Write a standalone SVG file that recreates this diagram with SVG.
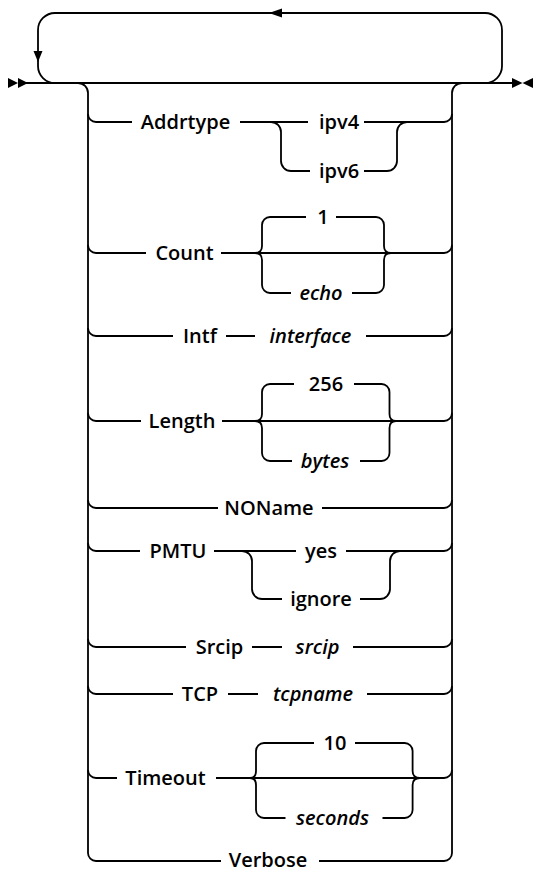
<svg xmlns="http://www.w3.org/2000/svg" width="533" height="871" viewBox="0 0 533 871">
<style>
  .c { fill: none; stroke: #000; stroke-width: 1.8; }
  .m { fill: #000; stroke: none; }
  text { font-family: "Open Sans", "Noto Sans", "Liberation Sans", sans-serif; font-size: 20px; fill: #000; text-anchor: middle; font-weight: 600; }
  .v { font-style: italic; }
</style>
<rect width="533" height="871" fill="#fff"/>
<g id="connectors">
  <path class="c" d="M18,83 H512"/>
  <path class="c" d="M485,83 A17,17 0 0 0 502,66 V30 A17,17 0 0 0 485,13 H55 A17,17 0 0 0 38,30 V66 A17,17 0 0 0 55,83"/>
  <polygon class="m" points="269,13 282,8.5 282,17.5"/>
  <polygon class="m" points="38,62 33.5,51 42.5,51"/>
  <polygon class="m" points="8,78 18,83 8,88"/>
  <polygon class="m" points="18,78 28,83 18,88"/>
  <polygon class="m" points="512,78 522.5,83 512,88"/>
  <polygon class="m" points="533,78 522.5,83 533,88"/>
  <path class="c" d="M78,83 A10,10 0 0 1 88,93 V853 A8,8 0 0 0 96,861"/>
  <path class="c" d="M462,83 A10,10 0 0 0 452,93 V853 A8,8 0 0 1 444,861"/>
  <path class="c" d="M88,114 A8,8 0 0 0 96,122 M88,245 A8,8 0 0 0 96,253 M88,328 A8,8 0 0 0 96,336 M88,413 A8,8 0 0 0 96,421 M88,500 A8,8 0 0 0 96,508 M88,543 A8,8 0 0 0 96,551 M88,639 A8,8 0 0 0 96,647 M88,686 A8,8 0 0 0 96,694 M88,770 A8,8 0 0 0 96,778"/>
  <path class="c" d="M444,122 A8,8 0 0 0 452,114 M444,253 A8,8 0 0 0 452,245 M444,336 A8,8 0 0 0 452,328 M444,421 A8,8 0 0 0 452,413 M444,508 A8,8 0 0 0 452,500 M444,551 A8,8 0 0 0 452,543 M444,647 A8,8 0 0 0 452,639 M444,694 A8,8 0 0 0 452,686 M444,778 A8,8 0 0 0 452,770"/>
  <!-- Addrtype -->
  <path class="c" d="M96,122 H132 M240,122 H308 M364,122 H444"/>
  <path class="c" d="M271,122 A10,10 0 0 1 281,132 V161 A10,10 0 0 0 291,171 H310"/>
  <path class="c" d="M364,171 H387 A10,10 0 0 0 397,161 V132 A10,10 0 0 1 407,122"/>
  <!-- Count -->
  <path class="c" d="M96,253 H146 M221,253 H444"/>
  <path class="c" d="M255,253 Q262,253 262,246 V225 A8,8 0 0 1 270,217 H306 M336,217 H376 A8,8 0 0 1 384,225 V246 Q384,253 391,253"/>
  <path class="c" d="M255,253 Q262,253 262,260 V285 A8,8 0 0 0 270,293 H291 M352,293 H376 A8,8 0 0 0 384,285 V260 Q384,253 391,253"/>
  <!-- Intf -->
  <path class="c" d="M96,336 H173 M226,336 H255 M366,336 H444"/>
  <!-- Length -->
  <path class="c" d="M96,421 H141 M222,421 H444"/>
  <path class="c" d="M255,421 Q262,421 262,414 V392 A8,8 0 0 1 270,384 H294 M354,384 H381.5 A8,8 0 0 1 389.5,392 V414 Q389.5,421 396,421"/>
  <path class="c" d="M255,421 Q262,421 262,428 V453 A8,8 0 0 0 270,461 H292 M360,461 H381.5 A8,8 0 0 0 389.5,453 V428 Q389.5,421 396,421"/>
  <!-- NOName -->
  <path class="c" d="M96,508 H218 M322,508 H444"/>
  <!-- PMTU -->
  <path class="c" d="M96,551 H140 M214,551 H296 M346,551 H444"/>
  <path class="c" d="M242,551 A10,10 0 0 1 252,561 V589 A10,10 0 0 0 262,599 H282"/>
  <path class="c" d="M360,599 H380 A10,10 0 0 0 390,589 V561 A10,10 0 0 1 400,551"/>
  <!-- Srcip -->
  <path class="c" d="M96,647 H186 M252,647 H282 M353,647 H444"/>
  <!-- TCP -->
  <path class="c" d="M96,694 H173 M228,694 H258 M367,694 H444"/>
  <!-- Timeout -->
  <path class="c" d="M96,778 H117 M216,778 H444"/>
  <path class="c" d="M250,778 Q256,778 256,771 V751 A8,8 0 0 1 264,743 H314 M355,743 H404.6 A8,8 0 0 1 412.6,751 V771 Q412.6,778 420,778"/>
  <path class="c" d="M250,778 Q256,778 256,785 V810 A8,8 0 0 0 264,818 H285.5 M382.5,818 H404.6 A8,8 0 0 0 412.6,810 V785 Q412.6,778 420,778"/>
  <!-- Verbose -->
  <path class="c" d="M96,861 H221 M319,861 H444"/>
</g>
<g id="n-addrtype"><text x="185.5" y="128.5">Addrtype</text></g>
<g id="n-ipv4"><text x="339" y="128.5">ipv4</text></g>
<g id="n-ipv6"><text x="339" y="177.5">ipv6</text></g>
<g id="n-count"><text x="184.5" y="259.5">Count</text></g>
<g id="n-count-1"><text x="323" y="223.5">1</text></g>
<g id="n-echo"><text class="v" x="321" y="299.5">echo</text></g>
<g id="n-intf"><text x="200" y="342.5">Intf</text></g>
<g id="n-interface"><text class="v" x="310.5" y="342.5">interface</text></g>
<g id="n-length"><text x="182" y="427.5">Length</text></g>
<g id="n-256"><text x="326" y="390.5">256</text></g>
<g id="n-bytes"><text class="v" x="325" y="467.5">bytes</text></g>
<g id="n-noname"><text x="269" y="514.5">NOName</text></g>
<g id="n-pmtu"><text x="178" y="557.5">PMTU</text></g>
<g id="n-yes"><text x="321" y="557.5">yes</text></g>
<g id="n-ignore"><text x="321" y="605.5">ignore</text></g>
<g id="n-srcip-kw"><text x="219.5" y="653.5">Srcip</text></g>
<g id="n-srcip"><text class="v" x="317.5" y="653.5">srcip</text></g>
<g id="n-tcp"><text x="200" y="700.5">TCP</text></g>
<g id="n-tcpname"><text class="v" x="313" y="700.5">tcpname</text></g>
<g id="n-timeout"><text x="165.5" y="784.5">Timeout</text></g>
<g id="n-10"><text x="335" y="749.5">10</text></g>
<g id="n-seconds"><text class="v" x="332.5" y="824.5">seconds</text></g>
<g id="n-verbose"><text x="268" y="867">Verbose</text></g>
</svg>
